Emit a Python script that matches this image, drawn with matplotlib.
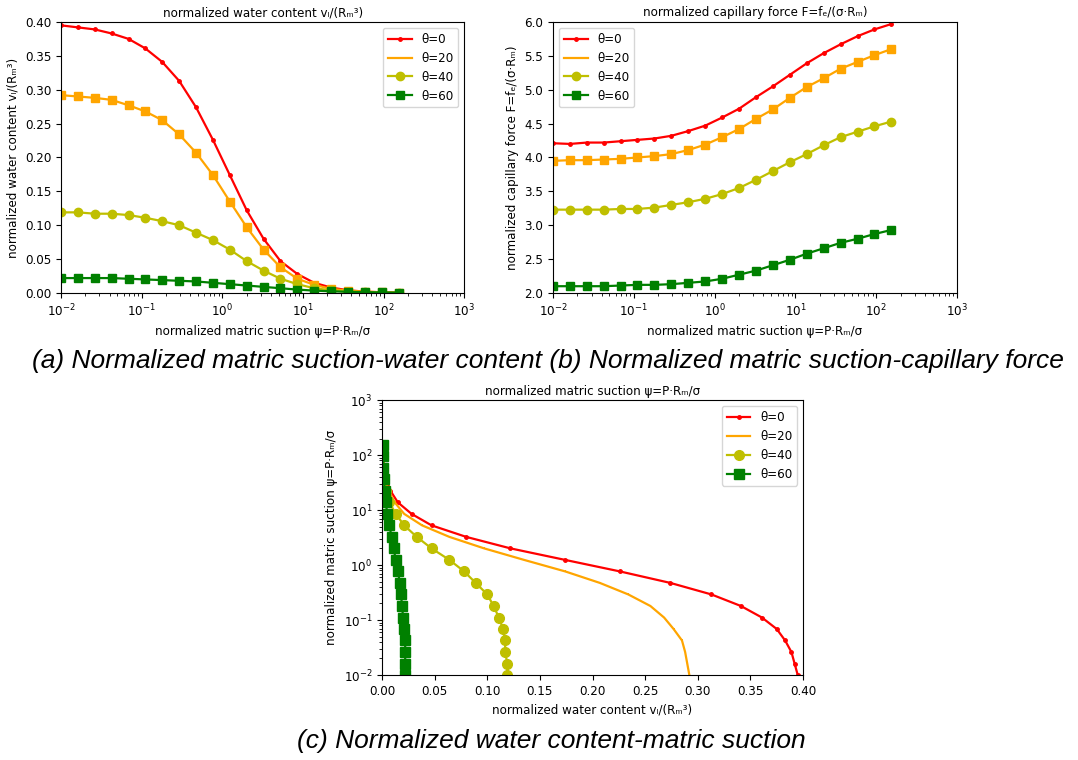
import matplotlib
matplotlib.use("Agg")
from matplotlib import pyplot as plt

# normalized matric suction psi (log spaced sample points)
psi = [0.01, 0.0162, 0.0262, 0.0425, 0.0688, 0.111, 0.180, 0.292, 0.473, 0.766,
       1.24, 2.01, 3.25, 5.27, 8.53, 13.8, 22.4, 36.2, 58.7, 95.0, 154.0]

# normalized water content
w0 = [0.395, 0.392, 0.389, 0.383, 0.375, 0.361, 0.341, 0.313, 0.274, 0.226,
      0.174, 0.122, 0.080, 0.047, 0.028, 0.015, 0.008, 0.004, 0.002, 0.001, 0.0005]
w20 = [0.292, 0.290, 0.288, 0.285, 0.277, 0.268, 0.255, 0.234, 0.207, 0.174,
       0.135, 0.097, 0.064, 0.038, 0.021, 0.012, 0.006, 0.0035, 0.002, 0.001, 0.0005]
w40 = [0.119, 0.119, 0.117, 0.117, 0.115, 0.111, 0.106, 0.100, 0.089, 0.078,
       0.064, 0.047, 0.033, 0.021, 0.013, 0.007, 0.004, 0.002, 0.001, 0.0007, 0.0004]
w60 = [0.022, 0.022, 0.022, 0.022, 0.021, 0.020, 0.019, 0.018, 0.017, 0.015,
       0.013, 0.011, 0.009, 0.007, 0.005, 0.0035, 0.0025, 0.0017, 0.0012, 0.0008, 0.0005]

# normalized capillary force
f0 = [4.21, 4.20, 4.22, 4.22, 4.24, 4.26, 4.28, 4.32, 4.39, 4.47,
      4.59, 4.72, 4.89, 5.05, 5.22, 5.39, 5.54, 5.67, 5.79, 5.89, 5.97]
f20 = [3.95, 3.96, 3.96, 3.97, 3.98, 4.00, 4.02, 4.05, 4.11, 4.19,
       4.30, 4.42, 4.57, 4.71, 4.88, 5.04, 5.17, 5.31, 5.41, 5.51, 5.60]
f40 = [3.23, 3.23, 3.23, 3.23, 3.24, 3.24, 3.26, 3.30, 3.34, 3.39,
       3.46, 3.55, 3.67, 3.80, 3.93, 4.05, 4.18, 4.30, 4.38, 4.46, 4.53]
f60 = [2.10, 2.10, 2.10, 2.10, 2.11, 2.12, 2.12, 2.13, 2.15, 2.17,
       2.21, 2.27, 2.33, 2.41, 2.49, 2.58, 2.66, 2.74, 2.80, 2.87, 2.93]

labels = ['θ=0', 'θ=20', 'θ=40', 'θ=60']

xlab_psi = 'normalized matric suction ψ=P·Rₘ/σ'
lab_w = 'normalized water content vₗ/(Rₘ³)'
lab_f = 'normalized capillary force F=fₑ/(σ·Rₘ)'

fs = 8.6
plt.rcParams['font.size'] = fs
plt.rcParams['xtick.labelsize'] = fs
plt.rcParams['ytick.labelsize'] = fs
plt.rcParams['legend.fontsize'] = fs

fig = plt.figure(figsize=(10.78, 7.6), dpi=100)

def curves(ax, x, ys, swap=False, sq20=True, ms=6):
    c = ['r', 'orange', 'y', 'g']
    m = ['.', ',', 'o', 's']
    for i, y in enumerate(ys):
        a, b = (y, x) if swap else (x, y)
        ax.plot(a, b, color=c[i], marker=m[i], ms=ms if m[i] != '.' else 5,
                lw=1.6, label=labels[i])
        if i == 1 and sq20:
            ax.plot(a, b, color=c[i], marker='s', ms=ms, ls='none')

# (a)
ax1 = fig.add_axes([0.0566, 0.6145, 0.374, 0.3566])
curves(ax1, psi, [w0, w20, w40, w60])
ax1.set_xscale('log')
ax1.set_xlim(1e-2, 1e3)
ax1.set_ylim(0, 0.4)
ax1.set_title(lab_w, fontsize=fs, pad=4)
ax1.set_xlabel(xlab_psi)
ax1.set_ylabel(lab_w)
ax1.legend(loc='upper right')

# (b)
ax2 = fig.add_axes([0.513, 0.6145, 0.3748, 0.3566])
curves(ax2, psi, [f0, f20, f40, f60])
ax2.set_xscale('log')
ax2.set_xlim(1e-2, 1e3)
ax2.set_ylim(2.0, 6.0)
ax2.set_title(lab_f, fontsize=fs, pad=4)
ax2.set_xlabel(xlab_psi)
ax2.set_ylabel(lab_f)
ax2.legend(loc='upper left')

# (c)
ax3 = fig.add_axes([0.3544, 0.1118, 0.3905, 0.3618])
curves(ax3, psi, [w0, w20, w40, w60], swap=True, sq20=False, ms=7)
ax3.set_yscale('log')
ax3.set_ylim(1e-2, 1e3)
ax3.set_xlim(0, 0.4)
ax3.set_title(xlab_psi, fontsize=fs, pad=4)
ax3.set_xlabel(lab_w)
ax3.set_ylabel(xlab_psi)
ax3.legend(loc='upper right')

cap = dict(family='Liberation Sans', style='italic', fontsize=19,
           ha='center', va='center')
fig.text(548 / 1078, 1 - 361 / 760,
         '(a) Normalized matric suction-water content (b) Normalized matric suction-capillary force',
         **cap)
fig.text(551 / 1078, 1 - 741 / 760, '(c) Normalized water content-matric suction', **cap)

fig.savefig('out.png', dpi=100)
